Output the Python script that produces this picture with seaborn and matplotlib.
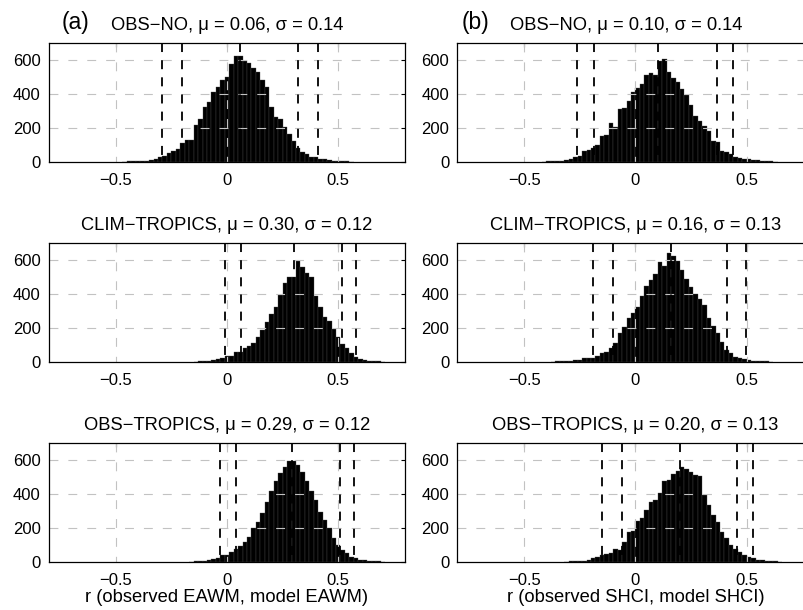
import numpy as np
import pandas as pd
import matplotlib
matplotlib.use("Agg")
import matplotlib.pyplot as plt
import seaborn as sns

BIN_WIDTH = 0.02

# bin counts; *_START is the centre of the first bin
A1_START = -0.46
A1_COUNTS = [1, 2, 2, 3, 5, 7, 10, 15, 25, 33, 50, 63, 72, 112, 127, 127, 214, 250,
             320, 351, 412, 440, 480, 496, 575, 623, 623, 592, 582, 553, 525, 482,
             441, 323, 261, 253, 202, 163, 124, 82, 59, 45, 29, 25, 18, 14, 10, 6,
             4, 3, 2, 1]
B1_START = -0.41
B1_COUNTS = [1, 2, 3, 4, 6, 9, 14, 25, 33, 63, 69, 78, 98, 153, 157, 225, 202, 310,
             314, 357, 412, 435, 457, 510, 520, 510, 594, 604, 529, 494, 467, 425,
             392, 333, 269, 239, 210, 180, 124, 118, 63, 57, 45, 25, 20, 16, 14, 10,
             8, 5, 3, 2, 1]
A2_START = -0.14
A2_COUNTS = [1, 2, 3, 5, 8, 14, 20, 35, 35, 55, 59, 79, 92, 112, 147, 187, 232, 279,
             320, 391, 462, 498, 501, 594, 560, 521, 498, 387, 320, 265, 240, 191,
             147, 104, 79, 53, 29, 16, 10, 6, 3, 2, 1]
B2_START = -0.37
B2_COUNTS = [1, 2, 3, 4, 6, 8, 10, 20, 22, 24, 33, 49, 59, 79, 112, 167, 203, 256,
             285, 324, 387, 446, 478, 517, 584, 564, 639, 619, 590, 541, 486, 442,
             397, 368, 334, 260, 212, 167, 118, 69, 49, 29, 24, 16, 10, 6, 4, 3, 2, 1]
A3_START = -0.16
A3_COUNTS = [1, 2, 3, 5, 9, 16, 20, 39, 39, 59, 75, 92, 118, 147, 197, 236, 285, 354,
             413, 472, 521, 557, 590, 594, 570, 527, 472, 413, 364, 295, 246, 197,
             142, 98, 69, 49, 29, 20, 12, 8, 5, 3, 2, 1]
B3_START = -0.31
B3_COUNTS = [1, 2, 3, 4, 6, 10, 20, 29, 39, 43, 49, 73, 69, 118, 177, 180, 240, 256,
             305, 350, 364, 403, 472, 482, 515, 531, 560, 545, 527, 511, 507, 393,
             334, 275, 236, 177, 138, 98, 73, 59, 39, 28, 20, 12, 8, 5, 3, 2, 1]

EXPERIMENTS = ["OBS\u2212NO", "CLIM\u2212TROPICS", "OBS\u2212TROPICS"]
MU_A = [0.06, 0.30, 0.29]
SIGMA_A = [0.14, 0.12, 0.12]
MU_B = [0.10, 0.16, 0.20]
SIGMA_B = [0.14, 0.13, 0.13]

# dashed threshold lines
LINES_A = [[-0.29, -0.20, 0.32, 0.41], [-0.01, 0.065, 0.515, 0.58], [-0.03, 0.04, 0.51, 0.57]]
LINES_B = [[-0.265, -0.185, 0.365, 0.44], [-0.19, -0.10, 0.41, 0.495], [-0.15, -0.06, 0.455, 0.53]]

XLABEL_A = "r (observed EAWM, model EAWM)"
XLABEL_B = "r (observed SHCI, model SHCI)"

X_TICKS = [-0.5, 0, 0.5]
X_TICK_LABELS = ["\u22120.5", "0", "0.5"]
Y_TICKS = [0, 200, 400, 600]

sns.set_style("white")
plt.rcParams["font.family"] = ["Liberation Sans", "DejaVu Sans"]
plt.rcParams["text.color"] = "black"
plt.rcParams["axes.labelcolor"] = "black"
plt.rcParams["xtick.color"] = "black"
plt.rcParams["ytick.color"] = "black"

W, H = 804, 610
fig = plt.figure(figsize=(W / 100, H / 100), dpi=100)

AX_W = 356 / W
AX_H = 119 / H
LEFTS = [49 / W, 457.5 / W]
BOTTOMS = [(H - 161.7) / H, (H - 361.7) / H, (H - 561.7) / H]

GRID_KW = dict(color="0.76", lw=0.8, linestyle=(0, (8, 9)), zorder=3)


def draw_panel(ax, start, counts, lines, mu, title, title_x):
    centers = start + BIN_WIDTH * np.arange(len(counts))
    df = pd.DataFrame({"r": centers, "n": counts})
    lo = centers[0] - BIN_WIDTH / 2
    hi = centers[-1] + BIN_WIDTH / 2
    sns.histplot(data=df, x="r", weights="n", binwidth=BIN_WIDTH, binrange=(lo, hi),
                 ax=ax, color="black", edgecolor="0.3", linewidth=0.25, alpha=1,
                 zorder=2)
    for v in X_TICKS:
        ax.plot([v, v], [700, 0], **GRID_KW)
    for v in Y_TICKS[1:]:
        ax.plot([-0.8, 0.8], [v, v], **GRID_KW)
    for v in lines + [mu]:
        ax.plot([v, v], [700, 0], color="black", lw=1.3,
                linestyle=(0, (5, 4.5)), zorder=4)
    ax.set_xlim(-0.8, 0.8)
    ax.set_ylim(0, 700)
    ax.set_xticks(X_TICKS)
    ax.set_xticklabels(X_TICK_LABELS)
    ax.set_yticks(Y_TICKS)
    ax.tick_params(labelsize=12, direction="in", length=3, width=0.8,
                   top=True, right=True, pad=6)
    ax.tick_params(axis="x", pad=8)
    ax.set_ylabel("")
    ax.set_xlabel("")
    for s in ax.spines.values():
        s.set_visible(True)
        s.set_color("black")
        s.set_linewidth(0.9)
        s.set_zorder(5)
    ax.set_title(title, fontsize=13.2, pad=9, x=title_x)


for row in range(3):
    ax_a = fig.add_axes([LEFTS[0], BOTTOMS[row], AX_W, AX_H])
    ax_b = fig.add_axes([LEFTS[1], BOTTOMS[row], AX_W, AX_H])
    starts_a = [A1_START, A2_START, A3_START]
    counts_a = [A1_COUNTS, A2_COUNTS, A3_COUNTS]
    starts_b = [B1_START, B2_START, B3_START]
    counts_b = [B1_COUNTS, B2_COUNTS, B3_COUNTS]
    title_a = f"{EXPERIMENTS[row]}, \u03bc = {MU_A[row]:.2f}, \u03c3 = {SIGMA_A[row]:.2f}"
    title_b = f"{EXPERIMENTS[row]}, \u03bc = {MU_B[row]:.2f}, \u03c3 = {SIGMA_B[row]:.2f}"
    draw_panel(ax_a, starts_a[row], counts_a[row], LINES_A[row], MU_A[row], title_a, 0.5)
    draw_panel(ax_b, starts_b[row], counts_b[row], LINES_B[row], MU_B[row], title_b,
               0.5 if row else 0.475)
    if row == 2:
        ax_a.set_xlabel(XLABEL_A, fontsize=13.2, labelpad=1)
        ax_b.set_xlabel(XLABEL_B, fontsize=13.2, labelpad=1)

fig.text(62 / W, 1 - 28.7 / H, "(a)", fontsize=16.5, va="baseline")
fig.text(461.7 / W, 1 - 28.7 / H, "(b)", fontsize=16.5, va="baseline")

fig.savefig("out.png", dpi=100)
